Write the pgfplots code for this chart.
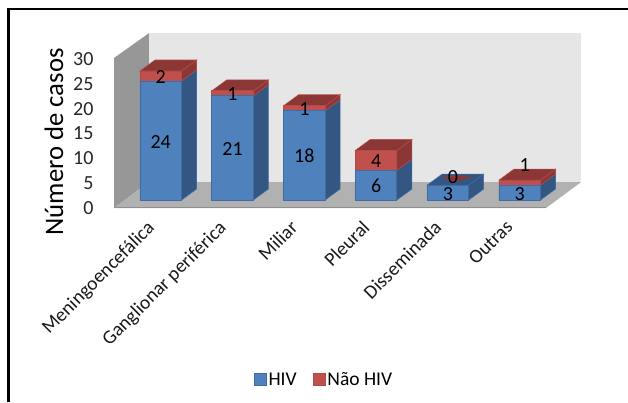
\documentclass[border=0pt]{standalone}
\usepackage{fontspec}
\setmainfont{Carlito}
\usepackage{pgfplots}
\pgfplotsset{compat=1.18}

\definecolor{hivfront}{HTML}{4F81BD}
\definecolor{hivedge}{HTML}{3E6CA3}
\definecolor{hivside}{HTML}{345682}
\definecolor{naofront}{HTML}{C0504D}
\definecolor{naoedge}{HTML}{B34A47}
\definecolor{naoside}{HTML}{8A3735}
\definecolor{backwall}{HTML}{E6E6E6}
\definecolor{sidewall}{HTML}{979797}
\definecolor{floorc}{HTML}{B1B1B1}
\definecolor{flooredge}{HTML}{8F8F8F}

\pgfplotsset{
  chartaxis/.style={
    scale only axis, width=432pt, clip=false,
    xmin=-0.651, xmax=5.366,
    axis line style={draw=none}, major tick length=0pt,
    /pgf/number format/assume math mode=true,
  },
  barspace/.style={
    chartaxis, at={(114pt,202pt)}, anchor=south west,
    height=148.8pt, ymin=0, ymax=30,
  },
}
\tikzset{vallabel/.style={font=\fontsize{20}{22}\selectfont, inner sep=0pt, anchor=center}}

% Sides and lid of one stacked column: position, HIV cases, other cases
\newcommand{\columnfaces}[3]{%
  \pgfmathsetmacro{\xa}{#1+0.289}%
  \pgfmathsetmacro{\xb}{#1+0.289+0.209}%
  \pgfmathsetmacro{\xc}{#1-0.289}%
  \pgfmathsetmacro{\xd}{#1-0.289+0.209}%
  \pgfmathsetmacro{\ya}{#2+2.218}%
  \pgfmathsetmacro{\yt}{#2+#3}%
  \pgfmathsetmacro{\yb}{#2+#3+2.218}%
  \addplot[draw=hivedge,fill=hivside,line width=.6pt,no marks] coordinates {(\xa,0) (\xb,2.218) (\xb,\ya) (\xa,#2)} --cycle;
  \addplot[draw=naoedge,fill=naoside,line width=.6pt,no marks] coordinates {(\xa,#2) (\xb,\ya) (\xb,\yb) (\xa,\yt)} --cycle;
  \addplot[draw=naoedge,fill=naoside,line width=.6pt,no marks] coordinates {(\xc,\yt) (\xd,\yb) (\xb,\yb) (\xa,\yt)} --cycle;
}

\begin{document}
\begin{tikzpicture}[x=1pt,y=1pt]
\useasboundingbox (0,0) rectangle (628,402);
\draw[line width=2.6pt,black] (8.5,0) -- (8.5,393) -- (628,393);

% Walls and floor, with the count scale
\begin{axis}[
  chartaxis, at={(114pt,194pt)}, anchor=south west,
  height=149pt, ymin=0, ymax=30,
  xtick=\empty, ytick={0,5,...,30},
  y tick label style={font=\fontsize{20}{22}\selectfont, text=black!85, anchor=east, xshift=-17pt},
  ylabel={Número de casos},
  every axis y label/.style={at={(axis description cs:-0.139,0.443)}, rotate=90, anchor=center,
    font=\fontsize{26.7}{30}\selectfont},
]
  \addplot[draw=none,fill=backwall,no marks] coordinates {(-0.1636,5.2) (-0.1636,35.2) (5.853,35.2) (5.853,5.2)} --cycle;
  \addplot[draw=none,fill=sidewall,no marks] coordinates {(-0.651,0) (-0.1636,5.2) (-0.1636,35.2) (-0.651,30.2)} --cycle;
  \addplot[draw=none,fill=floorc,no marks] coordinates {(-0.651,0) (-0.1636,5.2) (5.853,5.2) (5.366,0)} --cycle;
  \addplot[draw=flooredge,line width=1.6pt,no marks] coordinates {(-0.651,0.1) (5.366,0.1)};
\end{axis}

% Column sides and lids
\begin{axis}[barspace, xtick=\empty, ytick=\empty]
  \columnfaces{0}{24}{2}
  \columnfaces{1}{21}{1}
  \columnfaces{2}{18}{1}
  \columnfaces{3}{6}{4}
  % The empty second layer leaves a blue lid with a sliver of red
  \addplot[draw=hivedge,fill=hivside,line width=.6pt,no marks] coordinates {(4.289,0) (4.498,2.218) (4.498,5.218) (4.289,3)} --cycle;
  \addplot[draw=hivedge,fill=hivside,line width=.6pt,no marks] coordinates {(3.711,3) (3.92,5.218) (4.498,5.218) (4.289,3)} --cycle;
  \addplot[draw=none,fill=naoside,no marks] coordinates {(3.93,4.84) (4.35,4.84) (4.07,3.43)} --cycle;
  \columnfaces{5}{3}{1}
\end{axis}

% Column fronts, categories and legend
\begin{axis}[
  barspace,
  ybar stacked, bar width=41.5pt,
  xtick={0,...,5},
  xticklabels={Meningoencefálica,Ganglionar periférica,Miliar,Pleural,Disseminada,Outras},
  x tick label style={font=\fontsize{19.5}{22}\selectfont, xshift=-15pt, yshift=-14.5pt, rotate=45, anchor=north east, text=black!90},
  ytick=\empty,
  legend columns=2,
  legend style={at={(0.486,-1.21)}, anchor=center, draw=none, fill=none,
    font=\fontsize{19.5}{22}\selectfont, /tikz/column 2/.style={column sep=14pt}},
  legend image code/.code={\draw[#1,line width=.8pt] (0pt,-5pt) rectangle (12pt,7pt);},
]
  \addplot[draw=hivedge,fill=hivfront,line width=.8pt] coordinates {(0,24) (1,21) (2,18) (3,6) (4,3) (5,3)};
  \addplot[draw=naoedge,fill=naofront,line width=.8pt] coordinates {(0,2) (1,1) (2,1) (3,4) (4,0) (5,1)};
  \legend{HIV,Não HIV}
\end{axis}

% Value labels above the columns
\begin{axis}[barspace, xtick=\empty, ytick=\empty]
  \node[vallabel] at (axis cs:0,11.7) {24};
  \node[vallabel] at (axis cs:0,24.8) {2};
  \node[vallabel] at (axis cs:1,10.3) {21};
  \node[vallabel] at (axis cs:1,21.3) {1};
  \node[vallabel] at (axis cs:2,8.9) {18};
  \node[vallabel] at (axis cs:2,18.3) {1};
  \node[vallabel] at (axis cs:3,2.8) {6};
  \node[vallabel] at (axis cs:3,7.9) {4};
  \node[vallabel] at (axis cs:4,1.2) {3};
  \node[vallabel] at (axis cs:4.07,4.6) {0};
  \node[vallabel] at (axis cs:5,1.2) {3};
  \node[vallabel] at (axis cs:5.07,7.05) {1};
\end{axis}
\end{tikzpicture}
\end{document}
